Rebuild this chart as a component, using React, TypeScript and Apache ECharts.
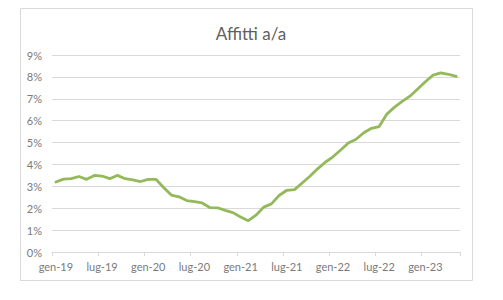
import React, { useEffect, useRef } from "react";
import * as echarts from "echarts";

const monthNames = ["gen", "feb", "mar", "apr", "mag", "giu", "lug", "ago", "set", "ott", "nov", "dic"];
const startYear = 2019;
const monthCount = 53;
const categories: string[] = Array.from({ length: monthCount }, (_, i) => {
  const m = i % 12;
  const y = startYear + Math.floor(i / 12);
  return `${monthNames[m]}-${String(y).slice(2)}`;
});

const affitti: number[] = [
  3.2, 3.33, 3.35, 3.45, 3.32, 3.5, 3.47, 3.35, 3.5, 3.35,
  3.3, 3.22, 3.32, 3.32, 2.95, 2.6, 2.52, 2.35, 2.3, 2.24,
  2.03, 2.02, 1.9, 1.8, 1.6, 1.43, 1.68, 2.05, 2.2, 2.58,
  2.82, 2.85, 3.15, 3.46, 3.8, 4.1, 4.35, 4.66, 4.98, 5.15,
  5.45, 5.65, 5.73, 6.3, 6.62, 6.88, 7.12, 7.45, 7.78, 8.08,
  8.18, 8.12, 8.02,
];

const yTicks = { min: 0, max: 9, interval: 1 };
const titleText = "Affitti a/a";

export default function App() {
  const ref = useRef<HTMLDivElement>(null);
  useEffect(() => {
    document.body.style.margin = "0";
    if (!ref.current) return;
    const chart = echarts.init(ref.current, undefined, { renderer: "svg" });
    const font = "Lato, 'Open Sans', sans-serif";
    chart.setOption({
      animation: false,
      backgroundColor: "#ffffff",
      textStyle: { fontFamily: font },
      title: {
        text: titleText,
        left: 246,
        textAlign: "center",
        top: 20,
        textStyle: { fontFamily: font, fontSize: 17, fontWeight: "normal", color: "#5f5f5f" },
      },
      graphic: [
        {
          type: "rect",
          z: -1,
          shape: { x: 20.5, y: 8.5, width: 452, height: 272 },
          style: { fill: "none", stroke: "#d9d9d9", lineWidth: 1 },
        },
      ],
      grid: { left: 52, right: 43, top: 55, bottom: 48, containLabel: false },
      xAxis: {
        type: "category",
        data: categories,
        boundaryGap: true,
        axisLine: { show: true, lineStyle: { color: "#d9d9d9", width: 1 } },
        axisTick: { show: true, interval: 5, length: 4, lineStyle: { color: "#d9d9d9" } },
        axisLabel: { interval: 5, color: "#7a7a7a", fontSize: 11, fontFamily: font, margin: 9 },
        splitLine: { show: false },
      },
      yAxis: {
        type: "value",
        min: yTicks.min,
        max: yTicks.max,
        interval: yTicks.interval,
        axisLine: { show: false },
        axisTick: { show: false },
        axisLabel: { formatter: "{value}%", color: "#7a7a7a", fontSize: 11, fontFamily: font, margin: 10 },
        splitLine: { lineStyle: { color: "#d9d9d9", width: 1 } },
      },
      series: [
        {
          type: "line",
          name: titleText,
          data: affitti,
          showSymbol: false,
          symbol: "none",
          lineStyle: { color: "#93b95a", width: 2.8, join: "round", cap: "round" },
          itemStyle: { color: "#93b95a" },
        },
      ],
    });
    return () => chart.dispose();
  }, []);
  return <div ref={ref} style={{ width: 503, height: 300 }} />;
}
